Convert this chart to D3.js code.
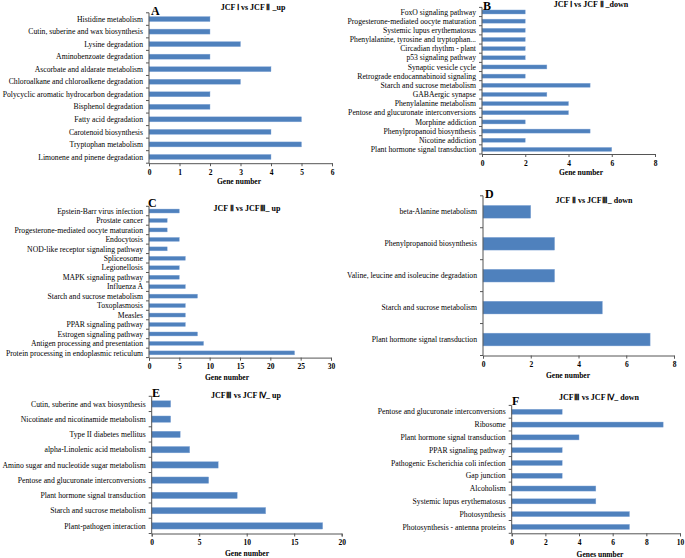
<!DOCTYPE html>
<html lang="en">
<head>
    <meta charset="UTF-8">
    <title>KEGG pathways of DEGs</title>
    <style>
        body, html {
            margin: 0;
            padding: 0;
            background: #fff;
            overflow: hidden;
        }
        text {
            font-family: "Liberation Serif", "Times New Roman", serif;
            fill: #000;
        }
        .cat { font-size: 7.7px; }
        .tick-label { font-size: 7.5px; font-weight: bold; }
        .axis-title { font-size: 7.5px; font-weight: bold; }
        .title { font-size: 8px; font-weight: bold; }
        .letter { font-size: 12px; font-weight: bold; }
    </style>
</head>
<body>
    <script src="https://d3js.org/d3.v7.min.js"></script>
    <script>
        // A: JCF I vs JCF II up
        const catsA = ["Histidine metabolism", "Cutin, suberine and wax biosynthesis", "Lysine degradation",
            "Aminobenzoate degradation", "Ascorbate and aldarate metabolism", "Chloroalkane and chloroalkene degradation",
            "Polycyclic aromatic hydrocarbon degradation", "Bisphenol degradation", "Fatty acid degradation",
            "Carotenoid biosynthesis", "Tryptophan metabolism", "Limonene and pinene degradation"];
        const valsA = [2, 2, 3, 2, 4, 3, 2, 2, 5, 4, 5, 4];
        const ticksA = [0, 1, 2, 3, 4, 5, 6];

        // B: JCF I vs JCF II down
        const catsB = ["FoxO signaling pathway", "Progesterone-mediated oocyte maturation", "Systemic lupus erythematosus",
            "Phenylalanine, tyrosine and tryptophan...", "Circadian rhythm - plant", "p53 signaling pathway",
            "Synaptic vesicle cycle", "Retrograde endocannabinoid signaling", "Starch and sucrose metabolism",
            "GABAergic synapse", "Phenylalanine metabolism", "Pentose and glucuronate interconversions",
            "Morphine addiction", "Phenylpropanoid biosynthesis", "Nicotine addiction", "Plant hormone signal transduction"];
        const valsB = [2, 2, 2, 2, 2, 2, 3, 2, 5, 3, 4, 4, 2, 5, 2, 6];
        const ticksB = [0, 2, 4, 6, 8];

        // C: JCF II vs JCF III up
        const catsC = ["Epstein-Barr virus infection", "Prostate cancer", "Progesterone-mediated oocyte maturation",
            "Endocytosis", "NOD-like receptor signaling pathway", "Spliceosome", "Legionellosis",
            "MAPK signaling pathway", "Influenza A", "Starch and sucrose metabolism", "Toxoplasmosis", "Measles",
            "PPAR signaling pathway", "Estrogen signaling pathway", "Antigen processing and presentation",
            "Protein processing in endoplasmic reticulum"];
        const valsC = [5, 3, 3, 5, 3, 6, 5, 5, 6, 8, 6, 6, 6, 8, 9, 24];
        const ticksC = [0, 5, 10, 15, 20, 25, 30];

        // D: JCF II vs JCF III down
        const catsD = ["beta-Alanine metabolism", "Phenylpropanoid biosynthesis",
            "Valine, leucine and isoleucine degradation", "Starch and sucrose metabolism",
            "Plant hormone signal transduction"];
        const valsD = [2, 3, 3, 5, 7];
        const ticksD = [0, 2, 4, 6, 8];

        // E: JCF III vs JCF IV up
        const catsE = ["Cutin, suberine and wax biosynthesis", "Nicotinate and nicotinamide metabolism",
            "Type II diabetes mellitus", "alpha-Linolenic acid metabolism",
            "Amino sugar and nucleotide sugar metabolism", "Pentose and glucuronate interconversions",
            "Plant hormone signal transduction", "Starch and sucrose metabolism", "Plant-pathogen interaction"];
        const valsE = [2, 2, 3, 4, 7, 6, 9, 12, 18];
        const ticksE = [0, 5, 10, 15, 20];

        // F: JCF III vs JCF IV down
        const catsF = ["Pentose and glucuronate interconversions", "Ribosome", "Plant hormone signal transduction",
            "PPAR signaling pathway", "Pathogenic Escherichia coli infection", "Gap junction", "Alcoholism",
            "Systemic lupus erythematosus", "Photosynthesis", "Photosynthesis - antenna proteins"];
        const valsF = [3, 9, 4, 3, 3, 3, 5, 5, 7, 7];
        const ticksF = [0, 2, 4, 6, 8, 10];

        const titles = ["JCF Ⅰ vs JCF Ⅱ _up", "JCF Ⅰ vs JCF Ⅱ _down", "JCF Ⅱ vs JCFⅢ_ up",
            "JCF Ⅱ vs JCFⅢ_ down", "JCFⅢ vs  JCF Ⅳ_ up", "JCFⅢ vs  JCF Ⅳ_ down"];
        const letters = ["A", "B", "C", "D", "E", "F"];
        const xTitles = ["Gene number", "Gene number", "Gene number", "Gene number", "Gene number", "Genes unmber"];

        // layout of each panel (pixels)
        const panels = [
            { cats: catsA, vals: valsA, ticks: ticksA, x0: 149, x1: 332, y0: 12.8, y1: 163.2, pad: 0.6,
              tx: 253, ty: 7, lx: 151, ly: 15, gx: 239, gy: 181 },
            { cats: catsB, vals: valsB, ticks: ticksB, x0: 482, x1: 655, y0: 7.4, y1: 154, pad: 0.56,
              tx: 591, ty: 4.5, lx: 483, ly: 9.5, gx: 581, gy: 172 },
            { cats: catsC, vals: valsC, ticks: ticksC, x0: 149, x1: 331, y0: 206.3, y1: 357.6, pad: 0.58,
              tx: 247, ty: 208, lx: 148, ly: 207, gx: 227, gy: 377 },
            { cats: catsD, vals: valsD, ticks: ticksD, x0: 483, x1: 674, y0: 195.8, y1: 355.5, pad: 0.6,
              tx: 594, ty: 200, lx: 485, ly: 198, gx: 568, gy: 375 },
            { cats: catsE, vals: valsE, ticks: ticksE, x0: 151.7, x1: 341.7, y0: 396.3, y1: 533.5, pad: 0.58,
              tx: 246, ty: 395, lx: 152, ly: 397, gx: 247, gy: 553 },
            { cats: catsF, vals: valsF, ticks: ticksF, x0: 511.7, x1: 680, y0: 405.4, y1: 533.3, pad: 0.6,
              tx: 599, ty: 397, lx: 512, ly: 405, gx: 600, gy: 554 }
        ];

        const svg = d3.select("body").append("svg")
            .attr("width", 685)
            .attr("height", 558);

        svg.append("rect").attr("width", 685).attr("height", 558).attr("fill", "#fff");

        panels.forEach((p, i) => {
            const g = svg.append("g");

            const x = d3.scaleLinear()
                .domain([p.ticks[0], p.ticks[p.ticks.length - 1]])
                .range([p.x0, p.x1]);

            const y = d3.scaleBand()
                .domain(p.cats)
                .range([p.y0, p.y1])
                .paddingInner(p.pad)
                .paddingOuter(p.pad / 2);

            // bars
            g.selectAll(".bar")
                .data(p.cats)
                .enter().append("rect")
                .attr("class", "bar")
                .attr("x", x(0))
                .attr("y", d => y(d))
                .attr("width", (d, k) => x(p.vals[k]) - x(0))
                .attr("height", y.bandwidth())
                .attr("fill", "#4f81bd")
                .attr("stroke", "#8eaedb")
                .attr("stroke-width", 0.4);

            // x axis
            const xAxis = d3.axisBottom(x).tickValues(p.ticks).tickSize(3).tickFormat(d3.format("d"));
            const gx = g.append("g")
                .attr("transform", `translate(0,${p.y1})`)
                .call(xAxis);
            gx.select(".domain").attr("stroke", "#555");
            gx.selectAll(".tick line").attr("stroke", "#555");
            gx.selectAll(".tick text")
                .attr("class", "tick-label")
                .attr("y", 6.5)
                .attr("font-family", null)
                .attr("font-size", null);

            // y axis line with ticks at category boundaries
            g.append("line")
                .attr("x1", x(0)).attr("x2", x(0))
                .attr("y1", p.y0).attr("y2", p.y1)
                .attr("stroke", "#555");
            const step = y.step();
            const bounds = d3.range(p.cats.length + 1).map(k => p.y0 + k * step);
            g.selectAll(".ytick")
                .data(bounds)
                .enter().append("line")
                .attr("x1", x(0) - 3).attr("x2", x(0))
                .attr("y1", d => d).attr("y2", d => d)
                .attr("stroke", "#555");

            // category labels
            g.selectAll(".cat")
                .data(p.cats)
                .enter().append("text")
                .attr("class", "cat")
                .attr("x", x(0) - 6)
                .attr("y", d => y(d) + y.bandwidth() / 2)
                .attr("dy", "0.35em")
                .attr("text-anchor", "end")
                .text(d => d);

            // titles
            g.append("text")
                .attr("class", "title")
                .attr("x", p.tx).attr("y", p.ty)
                .attr("dy", "0.35em")
                .attr("text-anchor", "middle")
                .text(titles[i]);

            g.append("text")
                .attr("class", "letter")
                .attr("x", p.lx).attr("y", p.ly)
                .text(letters[i]);

            g.append("text")
                .attr("class", "axis-title")
                .attr("x", p.gx).attr("y", p.gy)
                .attr("dy", "0.35em")
                .attr("text-anchor", "middle")
                .text(xTitles[i]);
        });
    </script>
</body>
</html>
